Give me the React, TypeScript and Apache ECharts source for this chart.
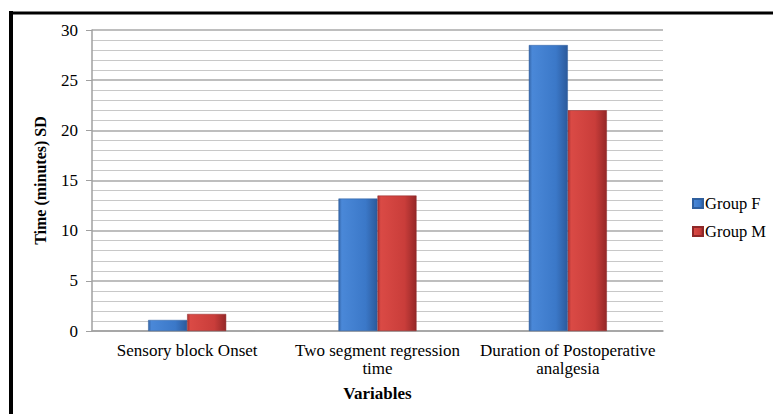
import React, { useEffect, useRef } from "react";
import * as echarts from "echarts";

const categories = [
  "Sensory block Onset",
  "Two segment regression\ntime",
  "Duration of Postoperative\nanalgesia",
];
const groupF = [1.1, 13.2, 28.5];
const groupM = [1.7, 13.5, 22.0];
const seriesNames = ["Group F", "Group M"];
const yTicks = { min: 0, max: 30, interval: 5 };

const serif = "Liberation Serif";

const blueFill = new echarts.graphic.LinearGradient(0, 0, 1, 0, [
  { offset: 0, color: "#3465A8" },
  { offset: 0.08, color: "#4A88D8" },
  { offset: 0.7, color: "#3B78C8" },
  { offset: 1, color: "#2B5A9C" },
]);
const redFill = new echarts.graphic.LinearGradient(0, 0, 1, 0, [
  { offset: 0, color: "#A83232" },
  { offset: 0.08, color: "#DA4A45" },
  { offset: 0.7, color: "#C93D3A" },
  { offset: 1, color: "#952828" },
]);

export default function App() {
  const ref = useRef<HTMLDivElement>(null);
  useEffect(() => {
    if (!ref.current) return;
    const chart = echarts.init(ref.current, null, { renderer: "svg" });
    chart.setOption({
      animation: false,
      backgroundColor: "#ffffff",
      textStyle: { fontFamily: serif },
      grid: { left: 92, right: 111, top: 30, bottom: 83, containLabel: false },
      legend: {
        orient: "vertical",
        left: 687,
        top: 190,
        itemWidth: 10,
        itemHeight: 9,
        itemGap: 11,
        icon: "rect",
        textStyle: { fontFamily: serif, fontSize: 16.5, color: "#000", padding: [0, 0, 0, -3] },
        data: seriesNames,
      },
      xAxis: {
        type: "category",
        data: categories,
        name: "Variables",
        nameLocation: "middle",
        nameGap: 54,
        nameTextStyle: { fontFamily: serif, fontSize: 17, fontWeight: "bold", color: "#000" },
        axisLine: { lineStyle: { color: "#a0a0a0", width: 1.5 } },
        axisTick: { show: false },
        axisLabel: { fontFamily: serif, fontSize: 17, color: "#000", margin: 10, lineHeight: 18, interval: 0 },
      },
      yAxis: {
        type: "value",
        min: yTicks.min,
        max: yTicks.max,
        interval: yTicks.interval,
        name: "Time (minutes) SD",
        nameLocation: "middle",
        nameGap: 44,
        nameTextStyle: { fontFamily: serif, fontSize: 16, fontWeight: "bold", color: "#000" },
        axisLine: { show: true, lineStyle: { color: "#a0a0a0", width: 1.5 } },
        axisTick: { show: true, length: 6, lineStyle: { color: "#a0a0a0" } },
        axisLabel: { fontFamily: serif, fontSize: 17, color: "#000", margin: 14 },
        splitLine: { show: true, lineStyle: { color: "#a8a8a8", width: 1.5 } },
        minorTick: { show: false, splitNumber: 5 },
        minorSplitLine: { show: true, lineStyle: { color: "#c8c8c8", width: 1 } },
      },
      series: [
        {
          name: seriesNames[0],
          type: "bar",
          data: groupF,
          barWidth: "20.5%",
          barGap: "0%",
          itemStyle: { color: blueFill, borderColor: "#2F5F9E", borderWidth: 0.5 },
        },
        {
          name: seriesNames[1],
          type: "bar",
          data: groupM,
          barWidth: "20.5%",
          barGap: "0%",
          itemStyle: { color: redFill, borderColor: "#8E2828", borderWidth: 0.5 },
        },
      ],
      graphic: [
        { type: "line", shape: { x1: 11, y1: 11, x2: 11, y2: 414 }, style: { stroke: "#000", lineWidth: 4 } },
        { type: "line", shape: { x1: 9, y1: 13, x2: 773, y2: 13 }, style: { stroke: "#000", lineWidth: 3 } },
      ],
    });
    return () => chart.dispose();
  }, []);
  return (
    <div
      ref={ref}
      style={{ position: "fixed", left: 0, top: 0, width: 774, height: 414 }}
    />
  );
}
